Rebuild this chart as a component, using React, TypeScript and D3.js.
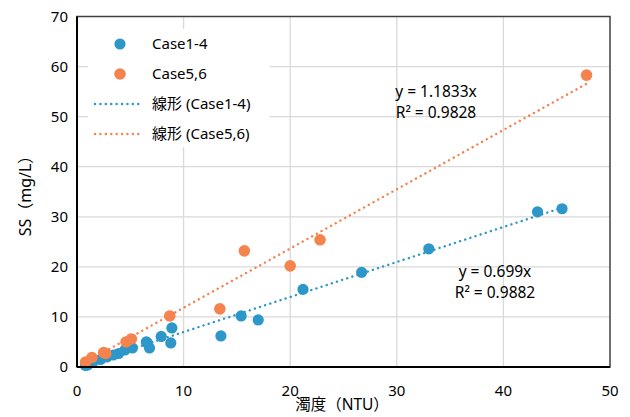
import React from "react";
import * as d3 from "d3";

// Turbidity (NTU) vs suspended solids (mg/L)
const case14X = [0.8, 1.0, 1.5, 2.2, 2.8, 3.4, 3.9, 4.5, 5.2, 6.5, 6.6, 6.8, 7.9, 8.8, 8.9, 13.5, 15.4, 17.0, 21.2, 26.7, 33.0, 43.2, 45.5];
const case14Y = [0.3, 0.4, 1.0, 1.5, 2.0, 2.4, 2.7, 3.4, 3.8, 5.0, 4.8, 3.8, 6.1, 4.8, 7.8, 6.2, 10.2, 9.4, 15.5, 18.9, 23.6, 31.0, 31.6];
const case56X = [0.8, 1.4, 2.5, 2.7, 4.6, 5.1, 8.7, 13.4, 15.7, 20.0, 22.8, 47.8];
const case56Y = [1.0, 1.9, 2.9, 2.7, 5.0, 5.6, 10.2, 11.6, 23.2, 20.2, 25.4, 58.3];

const slope14 = 0.699;
const slope56 = 1.1833;
const r2Case14 = "0.9882";
const r2Case56 = "0.9828";

const xTicks = [0, 10, 20, 30, 40, 50];
const yTicks = [0, 10, 20, 30, 40, 50, 60, 70];

const BLUE = "#2e97c9";
const ORANGE = "#f5834e";
const FONT = "'Noto Sans', 'Noto Sans CJK JP', sans-serif";

export default function App() {
  const W = 630;
  const H = 417;
  const left = 77, right = 610, top = 16.5, bottom = 367;
  const x = d3.scaleLinear().domain([0, 50]).range([left, right]);
  const y = d3.scaleLinear().domain([0, 70]).range([bottom, top]);

  const pts = (xs: number[], ys: number[]) => xs.map((v, i) => [v, ys[i]] as [number, number]);
  const s14 = pts(case14X, case14Y);
  const s56 = pts(case56X, case56Y);

  const line = d3.line<[number, number]>().x((d) => x(d[0])).y((d) => y(d[1]));
  const trend = (xs: number[], k: number) => {
    const lo = d3.min(xs) as number;
    const hi = d3.max(xs) as number;
    return line([[lo, lo * k], [hi, hi * k]]);
  };

  const dotStyle = { strokeWidth: 2.4, strokeDasharray: "0.1 5.3", strokeLinecap: "round" as const, fill: "none" };

  return (
    <svg width={W} height={H} style={{ position: "absolute", left: 0, top: 0, background: "#fff" }} fontFamily={FONT}>
      <rect x={0} y={0} width={W} height={H} fill="#fff" />
      {/* gridlines */}
      {xTicks.slice(1, -1).map((t) => (
        <line key={"gx" + t} x1={x(t)} x2={x(t)} y1={top} y2={bottom} stroke="#d9d9d9" strokeWidth={1.3} />
      ))}
      {yTicks.slice(1, -1).map((t) => (
        <line key={"gy" + t} x1={left} x2={right} y1={y(t)} y2={y(t)} stroke="#d9d9d9" strokeWidth={1.3} />
      ))}

      {/* trendlines */}
      <path d={trend(case14X, slope14) || ""} stroke={BLUE} {...dotStyle} />
      <path d={trend(case56X, slope56) || ""} stroke={ORANGE} {...dotStyle} />

      {/* points */}
      {s14.map((d, i) => (
        <circle key={"b" + i} cx={x(d[0])} cy={y(d[1])} r={5.6} fill={BLUE} />
      ))}
      {s56.map((d, i) => (
        <circle key={"o" + i} cx={x(d[0])} cy={y(d[1])} r={5.8} fill={ORANGE} />
      ))}

      {/* plot frame */}
      <rect x={left} y={top} width={right - left} height={bottom - top} fill="none" stroke="#404040" strokeWidth={1.5} />
      <line x1={left} x2={left} y1={top} y2={bottom} stroke="#000" strokeWidth={2} />
      <line x1={left} x2={right} y1={bottom} y2={bottom} stroke="#000" strokeWidth={2} />

      {/* legend */}
      <rect x={88} y={29} width={182} height={118} fill="#fff" />
      <circle cx={120} cy={44} r={5.6} fill={BLUE} />
      <text x={152} y={44} dy="0.35em" fontSize={15} fill="#000">Case1-4</text>
      <circle cx={120} cy={74} r={5.8} fill={ORANGE} />
      <text x={152} y={74} dy="0.35em" fontSize={15} fill="#000">Case5,6</text>
      <line x1={95} x2={143} y1={104} y2={104} stroke={BLUE} {...dotStyle} />
      <text x={152} y={104} dy="0.35em" fontSize={15} fill="#000">線形 (Case1-4)</text>
      <line x1={95} x2={143} y1={134} y2={134} stroke={ORANGE} {...dotStyle} />
      <text x={152} y={134} dy="0.35em" fontSize={15} fill="#000">線形 (Case5,6)</text>

      {/* regression annotations */}
      <text x={436} y={92} dy="0.35em" fontSize={15.5} textAnchor="middle" fill="#000">y = 1.1833x</text>
      <text x={436} y={113} dy="0.35em" fontSize={15.5} textAnchor="middle" fill="#000">R² = {r2Case56}</text>
      <text x={495} y={272} dy="0.35em" fontSize={15.5} textAnchor="middle" fill="#000">y = 0.699x</text>
      <text x={495} y={293} dy="0.35em" fontSize={15.5} textAnchor="middle" fill="#000">R² = {r2Case14}</text>

      {/* axes ticks */}
      {yTicks.map((t) => (
        <text key={"yt" + t} x={68} y={y(t)} dy="0.35em" fontSize={15} textAnchor="end" fill="#000">{t}</text>
      ))}
      {xTicks.map((t) => (
        <text key={"xt" + t} x={x(t)} y={391} dy="0.35em" fontSize={15} textAnchor="middle" fill="#000">{t}</text>
      ))}

      {/* axis titles */}
      <text x={342} y={405} dy="0.35em" fontSize={15.5} textAnchor="middle" fill="#000">濁度（NTU）</text>
      <text transform="translate(25,192) rotate(-90)" dy="0.35em" fontSize={16} textAnchor="middle" fill="#000">SS（mg/L）</text>
    </svg>
  );
}
